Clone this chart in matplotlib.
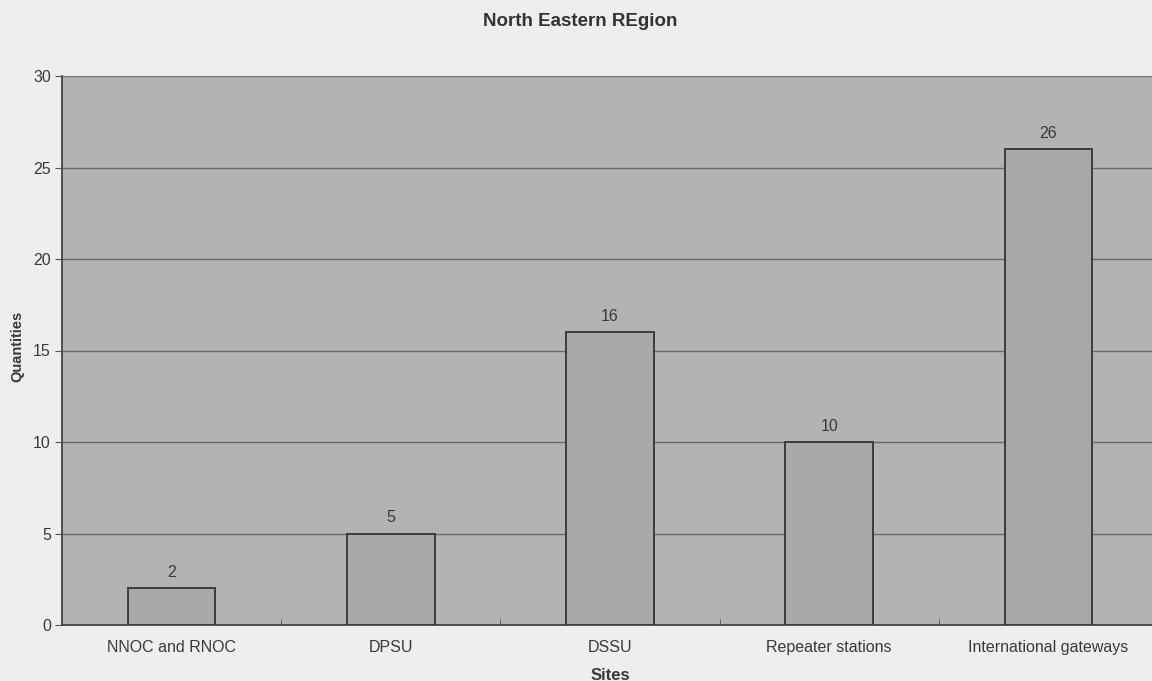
import matplotlib
matplotlib.use('Agg')
import matplotlib.pyplot as plt
import numpy as np

sites = ['NNOC and RNOC', 'DPSU', 'DSSU', 'Repeater stations', 'International gateways']
quantities = [2, 5, 16, 10, 26]
y_ticks = [0, 5, 10, 15, 20, 25, 30]

plt.rcParams['font.family'] = ['Liberation Sans', 'DejaVu Sans']
txt = '#3a3a3a'

fig = plt.figure(figsize=(11.52, 6.81), dpi=100, facecolor='#eeeeee')
ax = fig.add_axes([62/1152, 56/681, 1096/1152, 549/681])
ax.set_facecolor('#b3b3b3')

x = np.arange(len(sites))
bars = ax.bar(x, quantities, width=0.4, color='#a9a9a9', edgecolor='#3c3c3c', linewidth=1.4, zorder=3)
for b, v in zip(bars, quantities):
	ax.annotate(str(v), (b.get_x()+b.get_width()/2, v), xytext=(0, 6), textcoords='offset points',
		ha='center', va='bottom', fontsize=11.5, color=txt)

ax.set_xlim(-0.5, len(sites)-0.5)
ax.set_ylim(0, 30)
ax.set_yticks(y_ticks)
ax.set_yticklabels([str(t) for t in y_ticks], fontsize=11.5, color=txt)
ax.set_xticks(x)
ax.set_xticklabels(sites, fontsize=11.5, color=txt)
ax.tick_params(axis='x', length=0, pad=11)
ax.set_xticks(np.arange(0.5, len(sites)-0.5, 1), minor=True)
ax.tick_params(axis='x', which='minor', length=4, color='#555555', direction='in')
ax.tick_params(axis='y', length=5, color='#555555', pad=3)
ax.grid(axis='y', color='#6a6a6a', linewidth=1, zorder=1)
ax.set_axisbelow(True)

for s in ['left', 'bottom']:
	ax.spines[s].set_color('#444444'); ax.spines[s].set_linewidth(1.3)
ax.spines['top'].set_color('#777777'); ax.spines['top'].set_linestyle((0, (1, 1)))
ax.spines['right'].set_visible(False)

ax.set_xlabel('Sites', fontsize=12, fontweight='bold', color=txt, labelpad=9)
fig.text(17/1152, 1-346/681, 'Quantities', rotation=90, ha='center', va='center',
	fontsize=10.5, fontweight='bold', color=txt)
fig.text(580/1152, 1-21/681, 'North Eastern REgion', ha='center', va='center',
	fontsize=13.5, fontweight='bold', color='#333333')

plt.savefig('out.png', dpi=100, facecolor=fig.get_facecolor())
